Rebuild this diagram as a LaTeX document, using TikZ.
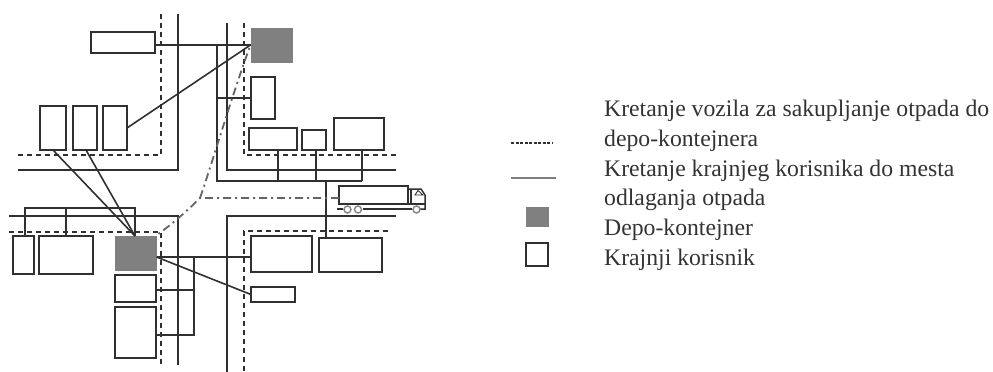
\documentclass[tikz,border=0pt]{standalone}
\usepackage{fontspec}
\setmainfont{Liberation Serif}
\definecolor{dep}{HTML}{808080}
\definecolor{ink}{HTML}{303030}
\definecolor{txt}{HTML}{333333}
\tikzset{
  ubox/.style={draw=ink,line width=1.6pt,fill=white,inner sep=0pt,outer sep=0pt},
  depot/.style={fill=dep,draw=none,inner sep=0pt,outer sep=0pt},
  conn/.style={draw=ink,line width=1.6pt},
  road/.style={draw=ink,line width=1.6pt},
  curb/.style={draw=ink,line width=1.6pt,dash pattern=on 5pt off 4pt},
  route/.style={draw=ink!75,line width=1.8pt,dash pattern=on 8pt off 4pt on 2pt off 4pt},
  wheel/.style={circle,draw=ink!60,line width=1.4pt,fill=white,minimum size=7pt,inner sep=0pt},
  legtext/.style={anchor=base west,inner sep=0pt,text=txt,font=\fontsize{23.7pt}{25pt}\selectfont}
}
\newcommand{\bx}[6]{\node[#1,minimum width=#4-#3,minimum height=#6-#5] (#2) at ({(#3+#4)/2},{(#5+#6)/2}) {};}
\begin{document}
\begin{tikzpicture}[x=1pt,y=-1pt]
\useasboundingbox (0,0) rectangle (993,372);
% roads
\draw[road] (178,14) -- (178,170) -- (18,170);
\draw[road] (227,23) -- (227,170) -- (396,170);
\draw[road] (9,216) -- (178,216) -- (178,365);
\draw[road] (396,216) -- (227,216) -- (227,372);
\draw[curb] (161,14) -- (161,155) -- (18,155);
\draw[curb] (244,23) -- (244,155) -- (396,155);
\draw[curb] (9,232) -- (161,232) -- (161,366);
\draw[curb] (388,231) -- (244,231) -- (244,371);
% boxes
\bx{ubox}{a}{91}{155}{32}{53}
\bx{ubox}{l1}{40}{66}{106}{150}
\bx{ubox}{l2}{73}{97}{106}{150}
\bx{ubox}{l3}{103}{127}{106}{150}
\bx{depot}{d1}{250.5}{292.5}{27.5}{62.5}
\bx{ubox}{b}{251}{275}{77}{119}
\bx{ubox}{c}{249}{297}{128}{150}
\bx{ubox}{e}{302}{326}{130}{150}
\bx{ubox}{f}{334}{384}{118}{150}
\bx{ubox}{g}{251}{312}{236}{272}
\bx{ubox}{h}{319}{382}{238}{272}
\bx{ubox}{i}{251}{295}{287}{302}
\bx{depot}{d2}{114.5}{156.5}{235.5}{271}
\bx{ubox}{j}{13}{34}{236}{274}
\bx{ubox}{k}{39}{93}{236}{274}
\bx{ubox}{m}{115}{156}{275}{302}
\bx{ubox}{n}{115}{156}{307}{358}
% truck
\bx{ubox}{t}{339}{408}{186}{204}
% junctions
\coordinate (d1w) at (250.5,45);
\coordinate (d2t) at (135,236);
\coordinate (d2e) at (156.5,257);
\coordinate (top1) at (217,181);
\coordinate (top2) at (25,208);
\coordinate (top3) at (135,208);
\coordinate (tr) at (194,257);
\coordinate (rj) at (200,198);
% connectors
\draw[conn] (a.east |- d1w) -- (d1w);
\draw[conn] (217,45) -- (top1) -- (362,181);
\draw[conn] (217,98) -- (b.west |- 0,98);
\draw[conn] (278,150) -- (278,181);
\draw[conn] (316,150) -- (316,181);
\draw[conn] (362,150) -- (362,181);
\draw[conn] (326,181) -- (326,238);
\draw[conn] (l3.east) -- (d1w);
\draw[conn] (53,150) -- (d2t);
\draw[conn] (86,150) -- (d2t);
\draw[conn] (top2 |- j.north) -- (top2) -- (top3) -- (d2t);
\draw[conn] (66,208) -- (66,236);
\draw[conn] (d2e) -- (g.west |- d2e);
\draw[conn] (tr) -- (194,335) -- (n.east |- 0,335);
\draw[conn] (194,290) -- (m.east |- 0,290);
\draw[conn] (d2e) -- (i.west);
% route
\draw[route] (t.west |- 0,198) -- (rj) .. controls (185,213) and (172,224) .. (157,235);
\draw[route] (rj) .. controls (210,170) and (232,95) .. (d1w);
% truck details
\draw[ink,line width=1.5pt] (408,189) -- (421,189) -- (425,195) -- (425,209) -- (420,209);
\draw[ink,line width=1.5pt] (408,204) -- (425,204);
\draw[ink,line width=1.5pt] (411,204) -- (411,189);
\draw[ink,line width=.9pt] (415,195) -- (418,190.5) -- (423,195) -- cycle;
\draw[ink,line width=1.5pt] (337,209) -- (343,209);
\draw[ink,line width=1.5pt] (363,209) -- (412,209);
\node[wheel] (w1) at (347.5,209.5) {};
\node[wheel] (w2) at (358,209.5) {};
\node[wheel] (w3) at (416.5,209.5) {};
% legend
\draw[ink,line width=1.6pt,dash pattern=on 3pt off 1.5pt] (511,143) -- (553,143);
\draw[dep,line width=2pt] (511,178) -- (556,178);
\bx{depot}{ld}{525.5}{549}{207}{227}
\bx{ubox}{lu}{526}{548}{243}{266}
\node[legtext] (t1) at (604,116.5) {Kretanje vozila za sakupljanje otpada do};
\node[legtext] (t2) at (604,146.5) {depo-kontejnera};
\node[legtext] (t3) at (604,176) {Kretanje krajnjeg korisnika do mesta};
\node[legtext] (t4) at (604,205.5) {odlaganja otpada};
\node[legtext] (t5) at (604,235.5) {Depo-kontejner};
\node[legtext] (t6) at (604,265.5) {Krajnji korisnik};
\end{tikzpicture}
\end{document}
